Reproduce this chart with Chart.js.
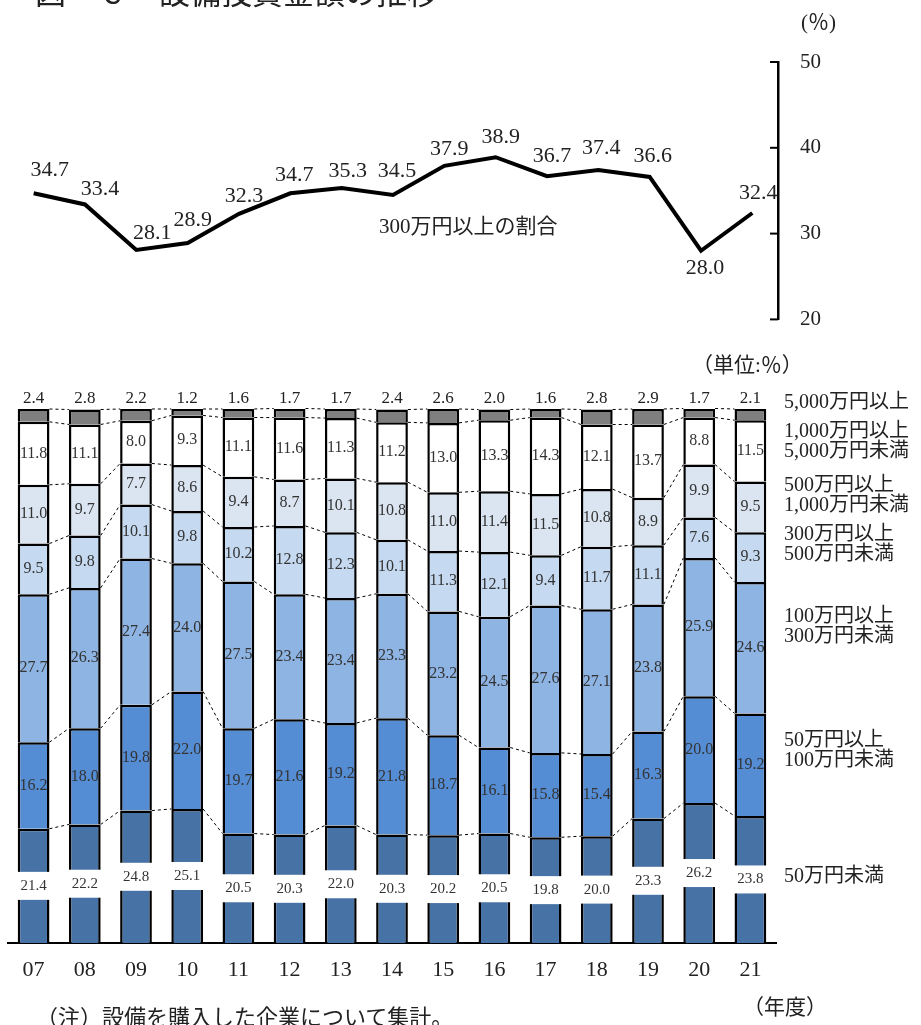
<!DOCTYPE html>
<html lang="ja">
<head>
<meta charset="utf-8">
<script src="https://cdn.jsdelivr.net/npm/chart.js@4.4.0/dist/chart.umd.min.js"></script>
<style>
  body { margin: 0; background: #fff; }
  #page { position: relative; width: 921px; height: 1025px; overflow: hidden;
          font-family: "Liberation Serif", "Noto Sans CJK JP", serif; color: #222; }
  canvas { position: absolute; left: 0; top: 0; }
  .txt { position: absolute; white-space: pre; }
  .leg { position: absolute; left: 784px; white-space: pre; font-size: 20px; line-height: 20px; }
</style>
</head>
<body>
<div id="page">
  <canvas id="barChart" width="921" height="1025"></canvas>
  <canvas id="lineChart" width="921" height="354"></canvas>

  <div class="txt" style="left:35px; top:-22px; font-size:31px; line-height:31px;">図　６　設備投資金額の推移</div>
  <div class="txt" style="left:801px; top:10px; font-size:21px; line-height:24px;">(％)</div>
  <div class="txt" style="left:379px; top:214px; font-size:21px; line-height:24px;">300万円以上の割合</div>
  <div class="txt" style="left:692px; top:353px; font-size:21px; line-height:24px;">（単位:％）</div>

  <div class="leg" style="top:391px;">5,000万円以上</div>
  <div class="leg" style="top:420px;">1,000万円以上
5,000万円未満</div>
  <div class="leg" style="top:474px;">500万円以上
1,000万円未満</div>
  <div class="leg" style="top:523px;">300万円以上
500万円未満</div>
  <div class="leg" style="top:605px;">100万円以上
300万円未満</div>
  <div class="leg" style="top:729px;">50万円以上
100万円未満</div>
  <div class="leg" style="top:865px;">50万円未満</div>

  <div class="txt" style="left:743px; top:995px; font-size:21px; line-height:24px;">（年度）</div>
  <div class="txt" style="left:36px; top:1007px; font-size:22px; line-height:22px;">（注）設備を購入した企業について集計。</div>
</div>

<script>
// 年度
var years = ['07', '08', '09', '10', '11', '12', '13', '14', '15', '16', '17', '18', '19', '20', '21'];

// 300万円以上の割合 (%)
var ratio300 = [34.7, 33.4, 28.1, 28.9, 32.3, 34.7, 35.3, 34.5, 37.9, 38.9, 36.7, 37.4, 36.6, 28.0, 32.4];
var ratioTicks = [20, 30, 40, 50];

// 金額階級別の構成比 (%), 下から順に積み上げ
var under50    = [21.4, 22.2, 24.8, 25.1, 20.5, 20.3, 22.0, 20.3, 20.2, 20.5, 19.8, 20.0, 23.3, 26.2, 23.8];
var from50     = [16.2, 18.0, 19.8, 22.0, 19.7, 21.6, 19.2, 21.8, 18.7, 16.1, 15.8, 15.4, 16.3, 20.0, 19.2];
var from100    = [27.7, 26.3, 27.4, 24.0, 27.5, 23.4, 23.4, 23.3, 23.2, 24.5, 27.6, 27.1, 23.8, 25.9, 24.6];
var from300    = [9.5, 9.8, 10.1, 9.8, 10.2, 12.8, 12.3, 10.1, 11.3, 12.1, 9.4, 11.7, 11.1, 7.6, 9.3];
var from500    = [11.0, 9.7, 7.7, 8.6, 9.4, 8.7, 10.1, 10.8, 11.0, 11.4, 11.5, 10.8, 8.9, 9.9, 9.5];
var from1000   = [11.8, 11.1, 8.0, 9.3, 11.1, 11.6, 11.3, 11.2, 13.0, 13.3, 14.3, 12.1, 13.7, 8.8, 11.5];
var over5000   = [2.4, 2.8, 2.2, 1.2, 1.6, 1.7, 1.7, 2.4, 2.6, 2.0, 1.6, 2.8, 2.9, 1.7, 2.1];

var bandNames = ['50万円未満', '50万円以上100万円未満', '100万円以上300万円未満', '300万円以上500万円未満',
                 '500万円以上1,000万円未満', '1,000万円以上5,000万円未満', '5,000万円以上'];
var bandValues = [under50, from50, from100, from300, from500, from1000, over5000];
var bandColors = ['#4672a6', '#558dd5', '#8eb4e3', '#c5d9f1', '#dbe5f1', '#ffffff', '#7f7f7f'];

// ラベルのずらし量 [dx, dy]
var ratioLabelShift = [[16, -23], [15, -15], [16, -17], [5, -23], [5, -18], [4, -18], [6, -17], [4, -24],
                       [5, -17], [5, -20], [5, -20], [3, -22], [3, -21], [4, 17], [6, -20]];

var numFont = '"Liberation Serif", serif';

var lineExtras = {
  id: 'lineExtras',
  afterDraw: function(chart) {
    var ctx = chart.ctx;
    var ys = chart.scales.y;
    ctx.save();
    // 目盛りは内向き
    ctx.strokeStyle = '#000';
    ctx.lineWidth = 2;
    ratioTicks.forEach(function(v) {
      var py = ys.getPixelForValue(v);
      ctx.beginPath();
      ctx.moveTo(ys.left, py);
      ctx.lineTo(ys.left - 8, py);
      ctx.stroke();
    });
    // 数値ラベル
    var meta = chart.getDatasetMeta(0);
    ctx.fillStyle = '#222';
    ctx.font = '22px ' + numFont;
    ctx.textAlign = 'center';
    ctx.textBaseline = 'middle';
    meta.data.forEach(function(pt, i) {
      var s = ratioLabelShift[i];
      ctx.fillText(ratio300[i].toFixed(1), pt.x + s[0], pt.y + s[1]);
    });
    ctx.restore();
  }
};

var barExtras = {
  id: 'barExtras',
  afterDatasetsDraw: function(chart) {
    var ctx = chart.ctx;
    var top100 = chart.scales.y.getPixelForValue(100);
    ctx.save();
    // 点線でつなぐ
    ctx.strokeStyle = '#000';
    ctx.lineWidth = 1;
    ctx.setLineDash([3, 3]);
    chart.data.datasets.forEach(function(ds, d) {
      var els = chart.getDatasetMeta(d).data;
      for (var i = 0; i < els.length - 1; i++) {
        var a = els[i], b = els[i + 1];
        ctx.beginPath();
        ctx.moveTo(a.x + a.width / 2, a.y);
        ctx.lineTo(b.x - b.width / 2, b.y);
        ctx.stroke();
      }
    });
    ctx.setLineDash([]);

    ctx.textAlign = 'center';
    ctx.textBaseline = 'middle';
    chart.data.datasets.forEach(function(ds, d) {
      var els = chart.getDatasetMeta(d).data;
      els.forEach(function(el, i) {
        var txt = ds.data[i].toFixed(1);
        var cy = (el.y + el.base) / 2;
        if (d === 0) {
          ctx.fillStyle = '#fff';
          ctx.fillRect(el.x - el.width / 2 - 3, cy - 14, el.width + 6, 28);
          ctx.fillStyle = '#333';
          ctx.font = '15px ' + numFont;
          ctx.fillText(txt, el.x, cy);
        } else if (d === bandValues.length - 1) {
          ctx.fillStyle = '#222';
          ctx.font = '17px ' + numFont;
          ctx.fillText(txt, el.x, top100 - 10);
        } else {
          ctx.fillStyle = '#333';
          ctx.font = '16px ' + numFont;
          ctx.fillText(txt, el.x, cy);
        }
      });
    });
    ctx.restore();
  }
};

new Chart(document.getElementById('lineChart'), {
  type: 'line',
  data: {
    labels: years,
    datasets: [{
      label: '300万円以上の割合',
      data: ratio300,
      borderColor: '#000',
      borderWidth: 4,
      pointRadius: 0,
      tension: 0,
      fill: false
    }]
  },
  options: {
    responsive: false,
    animation: false,
    events: [],
    layout: { padding: { left: 8, right: 0, top: 62, bottom: 0 } },
    plugins: { legend: { display: false }, tooltip: { enabled: false } },
    scales: {
      x: { display: false, offset: true },
      y: {
        position: 'right',
        min: 20,
        max: 50,
        afterBuildTicks: function(s) { s.ticks = ratioTicks.map(function(v) { return { value: v }; }); },
        afterFit: function(s) { s.width = 143; },
        grid: { display: true, drawOnChartArea: false, drawTicks: false },
        border: { display: true, color: '#000', width: 2.5 },
        ticks: { padding: 22, color: '#222', font: { family: numFont, size: 21 } }
      }
    }
  },
  plugins: [lineExtras]
});

new Chart(document.getElementById('barChart'), {
  type: 'bar',
  data: {
    labels: years,
    datasets: bandValues.map(function(vals, i) {
      return {
        label: bandNames[i],
        data: vals,
        backgroundColor: bandColors[i],
        borderColor: '#000',
        borderWidth: 2.5,
        borderSkipped: 'start',
        barPercentage: 0.62,
        categoryPercentage: 1
      };
    })
  },
  options: {
    responsive: false,
    animation: false,
    events: [],
    layout: { padding: { left: 8, right: 145, top: 409, bottom: 32 } },
    plugins: { legend: { display: false }, tooltip: { enabled: false } },
    scales: {
      x: {
        stacked: true,
        afterFit: function(s) { s.height = 50; },
        grid: { display: false, drawTicks: false },
        border: { display: true, color: '#000', width: 2 },
        ticks: { padding: 14, color: '#222', font: { family: numFont, size: 22 } }
      },
      y: { stacked: true, display: false, min: 0, max: 100 }
    }
  },
  plugins: [barExtras]
});
</script>
</body>
</html>
